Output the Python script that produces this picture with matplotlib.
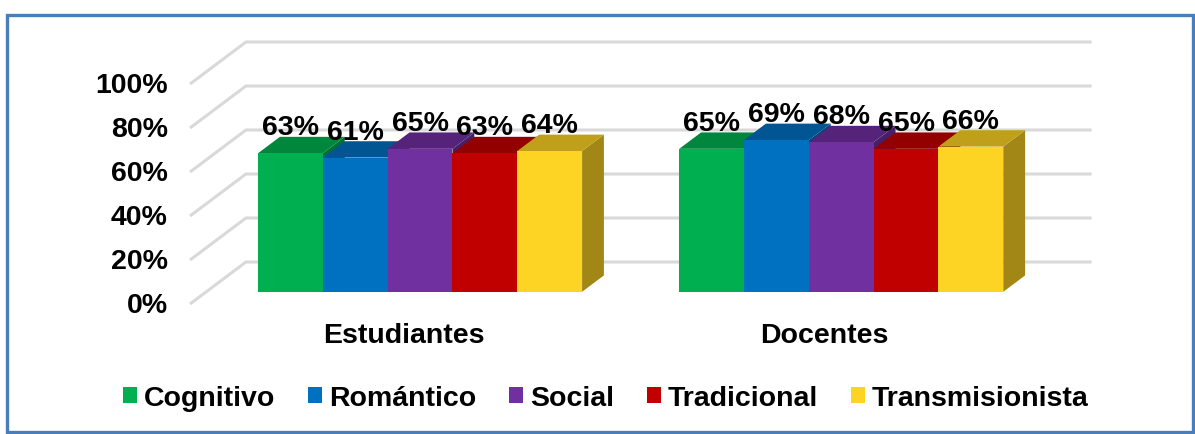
import numpy as np
import matplotlib.pyplot as plt
from matplotlib.patches import Polygon, Patch, Rectangle
from matplotlib.colors import to_rgb


# data
categories = ['Estudiantes', 'Docentes']
series     = ['Cognitivo', 'Romántico', 'Social', 'Tradicional', 'Transmisionista']
estudiantes = [63, 61, 65, 63, 64]
docentes    = [65, 69, 68, 65, 66]
yticks      = [0, 20, 40, 60, 80, 100]
colors      = ['#00B050', '#0070C0', '#7030A0', '#C00000', '#FDD324']

values = [estudiantes, docentes]

# pseudo-3d geometry (data units: x in bar widths, y in percent)
DX, DY   = 0.864, 19.1      # full depth offset
z0, z1   = 0.29, 0.68       # bar front / back depth
cat_w    = 6.5
gap      = 0.80
floor_w  = 13.05

def proj(x, y, z):
	return (x + z*DX, y + z*DY)

def shade(c, f):
	r, g, b = to_rgb(c)
	return (r*f, g*f, b*f)


plt.rcParams['font.family'] = ['Liberation Sans', 'DejaVu Sans']
plt.rcParams['font.weight'] = 'bold'
fs = 20.5

fig = plt.figure(figsize=(11.95, 4.35), dpi=100)
ax  = fig.add_axes([0, 0, 1, 1])
sx  = 64.8
sy  = 2.2
ax.set_xlim(-190/sx, -190/sx + 1195/sx)
ax.set_ylim((305-435)/sy, 305/sy)
ax.axis('off')

# gridlines: left diagonal + back wall
gcol = '#D9D9D9'
for t in yticks:
	xa, ya = proj(0, t, 0)
	xb, yb = proj(0, t, 1)
	xc, yc = proj(floor_w, t, 1)
	ax.plot([xa, xb, xc], [ya, yb, yc], color=gcol, lw=2.2, zorder=1, solid_capstyle='butt')
	ax.text(-0.34, t - 0.3, f'{t}%', ha='right', va='center', fontsize=fs, fontweight='bold')

# bars, drawn left to right
for ci, (cat, vals) in enumerate(zip(categories, values)):
	for si, (v, c) in enumerate(zip(vals, colors)):
		x0 = ci*cat_w + gap + si
		x1 = x0 + 1
		front = [proj(x0, 0, z0), proj(x1, 0, z0), proj(x1, v, z0), proj(x0, v, z0)]
		top   = [proj(x0, v, z0), proj(x1, v, z0), proj(x1, v, z1), proj(x0, v, z1)]
		side  = [proj(x1, 0, z0), proj(x1, 0, z1), proj(x1, v, z1), proj(x1, v, z0)]
		ax.add_patch(Polygon(side, closed=True, fc=shade(c, 0.64), ec='none', zorder=2))
		ax.add_patch(Polygon(top, closed=True, fc=shade(c, 0.76), ec='none', zorder=2))
		ax.add_patch(Polygon(front, closed=True, fc=c, ec='none', zorder=2))
		lx, ly = proj(x0 + 0.5, v, z1)
		ax.text(x0 + 0.5 + z0*DX, ly + 1.2, f'{v}%', ha='center', va='baseline',
				fontsize=fs, fontweight='bold', zorder=5)
	cx, cy = proj(ci*cat_w + cat_w/2, -15, 0.05)
	ax.text(cx, cy, cat, ha='center', va='center', fontsize=fs, fontweight='bold')

# legend
handles = [Patch(fc=c, ec='none') for c in colors]
fig.legend(handles, series, loc='center', bbox_to_anchor=(0.507, 0.083), ncol=5,
		   frameon=False, handlelength=0.47, handleheight=0.47, handletextpad=0.25,
		   columnspacing=1.17, prop={'size': fs, 'weight': 'bold'})

# blue frame
fig.patches.append(Rectangle((7/1195, 2/435), 1186/1195, 417/435, transform=fig.transFigure,
							 fill=False, ec='#4A7EBB', lw=2.4))

fig.savefig('out.png', dpi=100)
